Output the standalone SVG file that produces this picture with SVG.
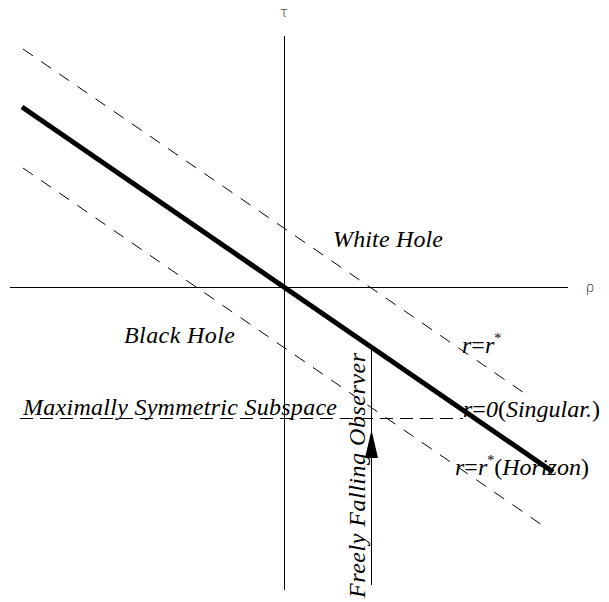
<svg xmlns="http://www.w3.org/2000/svg" width="609" height="602" viewBox="0 0 609 602">
<style>
.axis{stroke:#000;stroke-width:1;fill:none}
.dash{stroke:#000;stroke-width:1;fill:none;stroke-dasharray:12,10}
.hdash{stroke:#000;stroke-width:1;fill:none;stroke-dasharray:13,7}
.thick{stroke:#000;stroke-width:5;fill:none;stroke-linecap:butt}
.lbl{font-family:"Liberation Serif","Times New Roman",serif;font-size:24px;fill:#000}
.it{font-style:italic}
.greek{font-family:"DejaVu Sans","Liberation Sans",sans-serif;font-size:14px;fill:#000;font-weight:300}
</style>
<g id="connectors">
<line class="axis" x1="284.5" y1="36" x2="284.5" y2="590"/>
<line class="axis" x1="10" y1="287.5" x2="568" y2="287.5"/>
<line class="dash" x1="23" y1="49" x2="530" y2="397"/>
<line class="dash" x1="23" y1="168" x2="545" y2="527"/>
<line class="hdash" x1="20" y1="418.5" x2="463" y2="418.5"/>
<line class="thick" x1="22" y1="107" x2="553" y2="472"/>
<line class="axis" x1="371.5" y1="347" x2="371.5" y2="585"/>
<polygon points="371.5,430 378,458 365,458" fill="#000"/>
</g>
<g id="tau"><text class="greek" x="284" y="17" text-anchor="middle">τ</text></g>
<g id="rho"><text class="greek" x="590" y="292" text-anchor="middle">ρ</text></g>
<g id="white-hole"><text class="lbl it" x="333" y="247" textLength="110">White Hole</text></g>
<g id="black-hole"><text class="lbl it" x="124" y="343" textLength="111">Black Hole</text></g>
<g id="subspace"><text class="lbl it" x="23" y="415" textLength="314">Maximally Symmetric Subspace</text></g>
<g id="r-rstar"><text class="lbl" x="462" y="353"><tspan class="it">r</tspan>=<tspan class="it">r</tspan><tspan font-size="14" dy="-10">*</tspan></text></g>
<g id="r-zero"><text class="lbl" x="463" y="417"><tspan class="it">r</tspan>=<tspan class="it">0</tspan>(<tspan class="it">Singular.</tspan>)</text></g>
<g id="r-horizon"><text class="lbl" x="455" y="475"><tspan class="it">r</tspan>=<tspan class="it">r</tspan><tspan font-size="14" dy="-10">*</tspan><tspan dy="10">(</tspan><tspan class="it">Horizon</tspan>)</text></g>
<g id="observer"><text class="lbl it" transform="translate(365,598) rotate(-90)" textLength="245">Freely Falling Observer</text></g>
</svg>
